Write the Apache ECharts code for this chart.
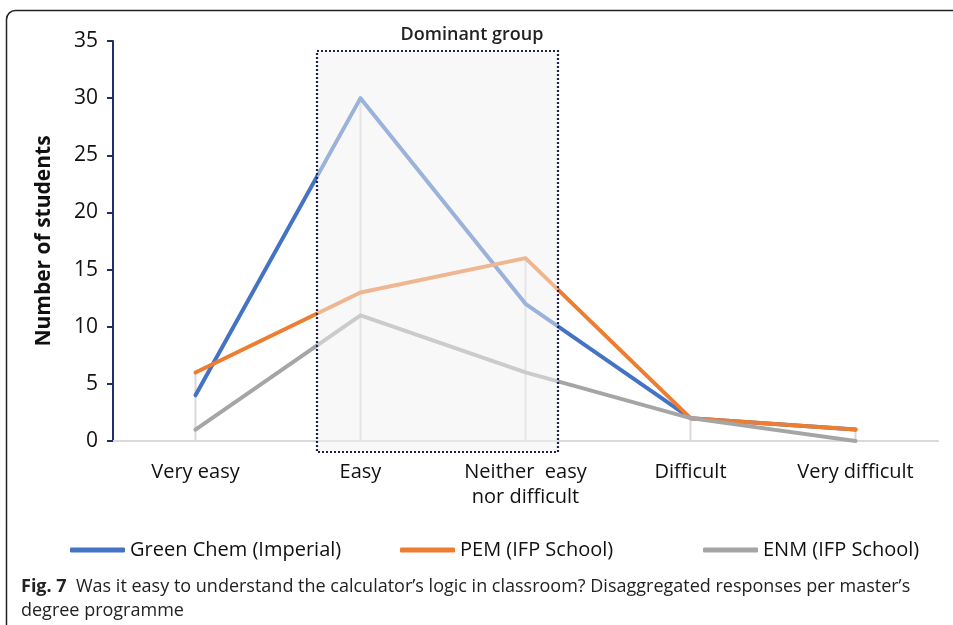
<!DOCTYPE html>
<html>
<head>
<meta charset="utf-8">
<script src="https://cdn.jsdelivr.net/npm/echarts@6/dist/echarts.min.js"></script>
<style>
    html, body { margin: 0; padding: 0; background: #fff; }
    #chart { width: 953px; height: 625px; }
</style>
</head>
<body>
<div id="chart"></div>
<script>
// categories on the x axis
var categories = ['Very easy', 'Easy', 'Neither  easy\nnor difficult', 'Difficult', 'Very difficult']
// number of students per answer
var greenChem = [4, 30, 12, 2, 1]
var pem = [6, 13, 16, 2, 1]
var enm = [1, 11, 6, 2, 0]
var seriesNames = ['Green Chem (Imperial)', 'PEM (IFP School)', 'ENM (IFP School)']
var colors = ['#4472c4', '#ed7d31', '#a5a5a5']
var yTicks = [0, 5, 10, 15, 20, 25, 30, 35]

// grey drop lines go up to the highest value of each category
var dropLines = categories.map(function (c, i) {
    return Math.max(greenChem[i], pem[i], enm[i])
})

var chart = echarts.init(document.getElementById('chart'))
var font = 'Open Sans'

function lineSeries(name, data, color) {
    return {
        name: name,
        type: 'line',
        data: data,
        symbol: 'none',
        z: 3,
        lineStyle: { color: color, width: 4, cap: 'round', join: 'round' },
        itemStyle: { color: color }
    }
}

function legend(name, left) {
    return {
        data: [name],
        left: left,
        top: 535,
        icon: 'roundRect',
        itemWidth: 55,
        itemHeight: 5,
        selectedMode: false,
        textStyle: { fontFamily: font, fontSize: 20, color: '#111' }
    }
}

var option = {
    animation: false,
    color: colors,
    textStyle: { fontFamily: font },
    grid: { left: 113, right: 15, top: 41, bottom: 184 },
    legend: [
        legend(seriesNames[0], 65),
        legend(seriesNames[1], 395),
        legend(seriesNames[2], 698)
    ],
    title: {
        left: 16,
        top: 570,
        text: '{b|Fig. 7}  Was it easy to understand the calculator\u2019s logic in classroom? Disaggregated responses per master\u2019s\ndegree programme',
        textStyle: {
            fontFamily: font,
            fontSize: 18,
            fontWeight: 'normal',
            color: '#222',
            lineHeight: 24,
            rich: {
                b: { fontFamily: font, fontSize: 18, fontWeight: 'bold', color: '#222', lineHeight: 24 }
            }
        }
    },
    xAxis: {
        type: 'category',
        data: categories,
        boundaryGap: true,
        axisLine: { lineStyle: { color: '#d9d9d9', width: 2 } },
        axisTick: { show: false },
        axisLabel: { fontFamily: font, fontSize: 20, color: '#111', margin: 19, lineHeight: 25 }
    },
    yAxis: {
        type: 'value',
        min: yTicks[0],
        max: yTicks[yTicks.length - 1],
        interval: 5,
        name: 'Number of students',
        nameLocation: 'middle',
        nameGap: 58,
        nameTextStyle: { fontFamily: font, fontSize: 21, fontWeight: 'bold', color: '#111' },
        axisLine: { show: true, lineStyle: { color: '#1f2f6e', width: 2 } },
        axisTick: { show: true, length: 6, lineStyle: { color: '#1f2f6e', width: 2 } },
        axisLabel: { fontFamily: font, fontSize: 21, color: '#111', margin: 15 },
        splitLine: { show: false }
    },
    series: [
        {
            name: 'drop',
            type: 'bar',
            data: dropLines,
            barWidth: 2,
            z: 1,
            silent: true,
            itemStyle: { color: '#d9d9d9' }
        },
        lineSeries(seriesNames[0], greenChem, colors[0]),
        lineSeries(seriesNames[1], pem, colors[1]),
        lineSeries(seriesNames[2], enm, colors[2])
    ],
    graphic: [
        {
            // outer frame of the figure
            type: 'rect',
            shape: { x: 6.5, y: 10.5, width: 1000, height: 700, r: 9 },
            style: { fill: 'none', stroke: '#222', lineWidth: 1.5 },
            z: 1
        },
        {
            // "Dominant group" highlight box
            type: 'rect',
            shape: { x: 317, y: 51, width: 241, height: 401 },
            style: {
                fill: 'rgba(242,242,242,0.5)',
                stroke: '#1c2150',
                lineWidth: 2.2,
                lineDash: [2, 2]
            },
            z: 100
        },
        {
            type: 'text',
            x: 472,
            y: 35,
            style: {
                text: 'Dominant group',
                fontFamily: font,
                fontSize: 18,
                fontWeight: 600,
                fill: '#222',
                align: 'center',
                verticalAlign: 'middle'
            },
            z: 100
        }
    ]
}

chart.setOption(option)
</script>
</body>
</html>
